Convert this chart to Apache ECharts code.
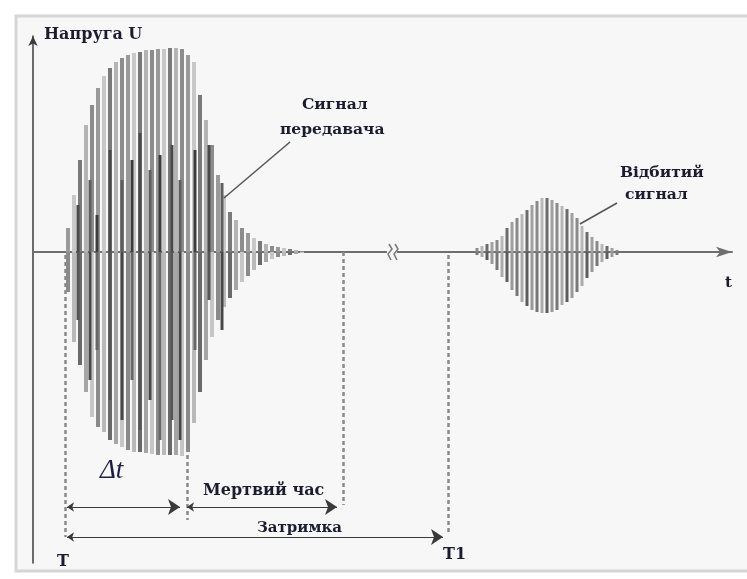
<!DOCTYPE html>
<html>
<head>
<meta charset="utf-8">
<script src="https://cdn.jsdelivr.net/npm/echarts@6/dist/echarts.min.js"></script>
<style>
html,body{margin:0;padding:0;background:#fff;}
#chart{width:747px;height:579px;}
</style>
</head>
<body>
<div id="chart"></div>
<script>
// signal of the transmitter: time, upper and lower amplitude of each stripe
var transT = [35,41,47,53,59,65,71,77,83,89,95,101,107,113,119,125,131,137,143,149,155,161,167,173,179,185,191,197,203,209,215,221,227,233,239,245,251,257,263,269];
var transTop = [24,57,92,127,147,164,176,184,190,194,197,199,200,202,202,203,203,204,204,203,197,190,157,132,107,77,57,40,32,24,19,14,11,8,6,5,4,3,2,1];
var transBottom = [-40,-90,-113,-140,-165,-175,-180,-188,-192,-195,-198,-200,-200,-201,-202,-203,-203,-203,-203,-204,-200,-171,-140,-108,-85,-68,-55,-46,-38,-30,-24,-18,-13,-10,-7,-5,-4,-3,-2,-1];
// darker inner stripes of the transmitter burst
var innerT = [45,57,64,77,89,99,107,117,127,139,147,162,176,189];
var innerTop = [47,72,37,102,72,92,119,82,97,107,72,102,107,69];
var innerBottom = [-68,-128,-98,-148,-168,-128,-178,-148,-188,-168,-188,-98,-48,-78];
// reflected signal
var reflT = [444,449,454,459,464,469,474,479,484,489,494,499,504,509,514,519,524,529,534,539,544,549,554,559,564,569,574,579,584];
var reflTop = [4,6,8,10,12,16,24,30,34,38,42,47,51,54,54,52,49,46,43,39,34,26,20,15,11,8,6,4,2];
var reflBottom = [-3,-5,-8,-12,-18,-25,-30,-38,-44,-50,-54,-58,-60,-61,-61,-60,-58,-53,-50,-46,-40,-34,-26,-20,-14,-10,-7,-5,-3];
// marks on the time axis: T, end of Δt, end of dead time, T1
var markT = [32,154,310,415];
var markFrom = [-3,-203,0,-3];
var markTo = [-285,-268,-253,-283];
// dimension arrows: Δt, мертвий час, затримка
var arrowFrom = [34,154,34];
var arrowTo = [147,304,410];
var arrowLevel = [-255,-255,-285];

function zip3(a,b,c){
	var out = [];
	for(var i = 0; i < a.length; i++){
		out.push([a[i], b[i], c[i]]);
	}
	return out;
}

//竖条渲染
function stripes(w, upColors, downColors){
	return function(params, api){
		var t = api.value(0);
		var pTop = api.coord([t, api.value(1)]);
		var pBot = api.coord([t, api.value(2)]);
		var p0 = api.coord([t, 0]);
		var bw = api.size([w, 0])[0];
		var i = params.dataIndex;
		return {
			type: 'group',
			children: [{
				type: 'rect',
				shape: {x: pTop[0] - bw/2, y: pTop[1], width: bw, height: p0[1] - pTop[1]},
				style: {fill: upColors[i % upColors.length]}
			}, {
				type: 'rect',
				shape: {x: p0[0] - bw/2, y: p0[1], width: bw, height: pBot[1] - p0[1]},
				style: {fill: downColors[i % downColors.length]}
			}]
		};
	};
}

var dashData = [];
for(var i = 0; i < markT.length; i++){
	dashData.push({coords: [[markT[i], markFrom[i]], [markT[i], markTo[i]]]});
}
var arrowData = [];
for(var j = 0; j < arrowFrom.length; j++){
	arrowData.push({coords: [[arrowFrom[j], arrowLevel[j]], [arrowTo[j], arrowLevel[j]]]});
}
var leaderData = [
	{coords: [[257,110],[191,54]]},
	{coords: [[584,49],[547,28]]}
];

var serif = '"DejaVu Serif", "Liberation Serif", serif';
var textColor = '#1c1c30';

// текстова мітка
function label(text, x, y, size, font){
	return {
		type: 'text', z: 50,
		style: {text: text, x: x, y: y, verticalAlign: 'middle', font: font || ('bold ' + size + 'px ' + serif), fill: textColor}
	};
}

var chart = echarts.init(document.getElementById('chart'));
var option = {
	backgroundColor: '#ffffff',
	animation: false,
	grid: {left: 33, right: 15, top: 36, bottom: 16},
	xAxis: {
		type: 'value', min: 0, max: 699,
		axisLine: {onZero: true, symbol: ['none','arrow'], symbolSize: [8,16], lineStyle: {color: '#6e6e6e', width: 2}},
		axisTick: {show: false}, axisLabel: {show: false}, splitLine: {show: false}
	},
	yAxis: {
		type: 'value', min: -311, max: 216,
		axisLine: {show: true, symbol: ['none','arrow'], symbolSize: [7,10], lineStyle: {color: '#3c3c3c', width: 1.5}},
		axisTick: {show: false}, axisLabel: {show: false}, splitLine: {show: false}
	},
	graphic: [
		{type: 'rect', z: -10, shape: {x: 16, y: 16, width: 740, height: 555}, style: {fill: '#f7f7f7', stroke: '#d6d6d6', lineWidth: 3}},
		label('Напруга U', 44, 35, 16),
		label('Сигнал', 302, 105, 15.5),
		label('передавача', 280, 130, 15.5),
		label('Відбитий', 620, 173, 15.5),
		label('сигнал', 625, 195, 15.5),
		label('t', 725, 283, 15),
		label('Мертвий час', 203, 491, 16),
		label('Затримка', 257, 528, 15),
		label('T', 57, 562, 16),
		label('T1', 443, 555, 16),
		{type: 'text', z: 50, style: {text: 'Δt', x: 100, y: 471, verticalAlign: 'middle', font: 'italic 27px "Liberation Serif", serif', fill: '#1a1f45'}},
		// розрив осі
		{type: 'rect', z: 40, shape: {x: 387, y: 246, width: 10, height: 12}, style: {fill: '#f7f7f7'}},
		{type: 'polyline', z: 41, shape: {points: [[389,244],[392,249],[388,254],[391,260]]}, style: {stroke: '#777', lineWidth: 1.5, fill: null}},
		{type: 'polyline', z: 41, shape: {points: [[395,244],[398,249],[394,254],[397,260]]}, style: {stroke: '#777', lineWidth: 1.5, fill: null}}
	],
	series: [
		{
			type: 'custom', name: 'Сигнал передавача', z: 3,
			renderItem: stripes(4, ['#9a9a9a','#c8c8c8','#7a7a7a','#b4b4b4','#8c8c8c'], ['#8a8a8a','#b9b9b9','#6a6a6a','#a5a5a5','#c6c6c6']),
			data: zip3(transT, transTop, transBottom)
		},
		{
			type: 'custom', name: 'inner', z: 4,
			renderItem: stripes(3, ['#4a4a4a','#5e5e5e','#3c3c3c'], ['#555555','#474747','#666666']),
			data: zip3(innerT, innerTop, innerBottom)
		},
		{
			type: 'custom', name: 'Відбитий сигнал', z: 3,
			renderItem: stripes(3, ['#8a8a8a','#b8b8b8','#6c6c6c','#a0a0a0'], ['#777777','#aaaaaa','#5c5c5c','#999999']),
			data: zip3(reflT, reflTop, reflBottom)
		},
		{
			type: 'lines', coordinateSystem: 'cartesian2d', z: 5,
			lineStyle: {color: '#8a8a8a', width: 2.5, type: [4,3], opacity: 1},
			data: dashData
		},
		{
			type: 'lines', coordinateSystem: 'cartesian2d', z: 6,
			symbol: ['arrow','arrow'], symbolSize: [7,12],
			lineStyle: {color: '#3a3a3a', width: 1.2, opacity: 1},
			data: arrowData
		},
		{
			type: 'lines', coordinateSystem: 'cartesian2d', z: 6,
			lineStyle: {color: '#555', width: 1.5, opacity: 1},
			data: leaderData
		}
	]
};
chart.setOption(option);
</script>
</body>
</html>
